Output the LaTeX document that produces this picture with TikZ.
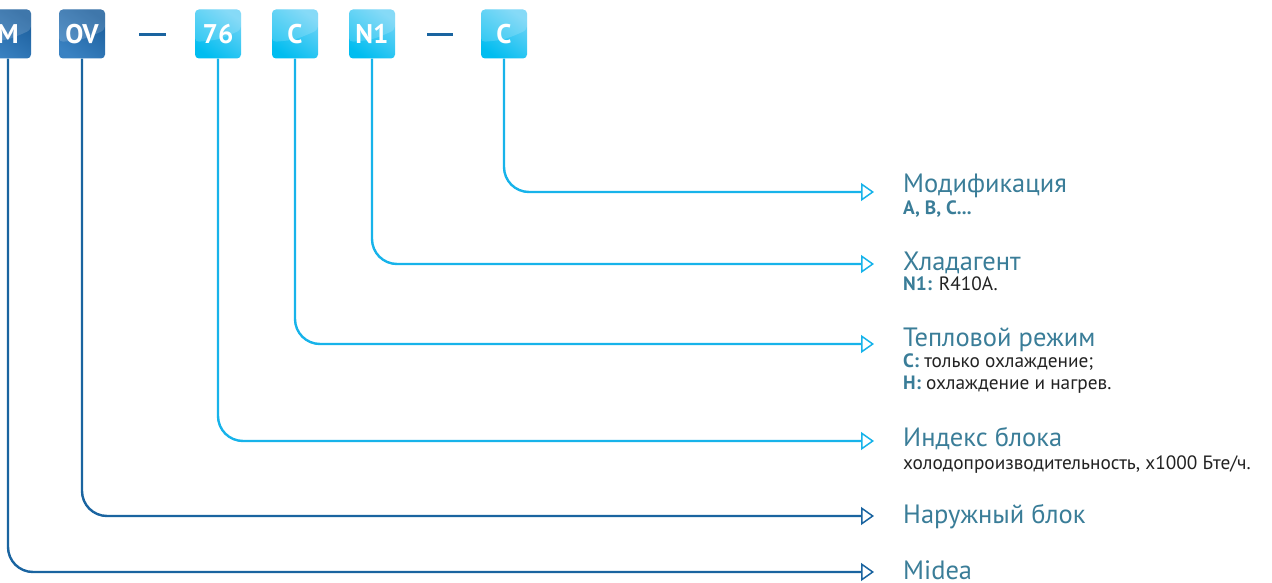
\documentclass[tikz,border=0pt]{standalone}
\usepackage{fontspec}
\setmainfont{PT Sans}
\usetikzlibrary{arrows.meta}

\definecolor{deepblue}{HTML}{1A64A0}
\definecolor{skyblue}{HTML}{17B3EA}
\definecolor{tealtext}{HTML}{3A7D98}
\definecolor{bodytext}{HTML}{222222}
\definecolor{boxdarka}{HTML}{1B5E9C}
\definecolor{boxdarkb}{HTML}{3A82C2}
\definecolor{boxlighta}{HTML}{6FD3F6}
\definecolor{boxlightb}{HTML}{00BDF0}

\newcommand{\lab}[1]{\textbf{\textcolor{tealtext}{#1}}}

\begin{document}
\begin{tikzpicture}[x=1pt, y=-1pt,
    box/.style={rounded corners=4pt, minimum width=46pt, minimum height=49pt,
        inner sep=0pt, text=white, font=\fontsize{27}{27}\selectfont\bfseries,
        path picture={\fill[white, opacity=0.16]
            (path picture bounding box.north west) -- (path picture bounding box.north east)
            -- ([yshift=4pt]path picture bounding box.east)
            .. controls ([yshift=-6pt]path picture bounding box.center) ..
            ([yshift=-8pt]path picture bounding box.west) -- cycle;}},
    darkbox/.style={box, top color=boxdarka, bottom color=boxdarkb, shading angle=-35},
    lightbox/.style={box, top color=boxlighta, bottom color=boxlightb, shading angle=-35},
    conn/.style={line width=2.4pt, rounded corners=25pt,
        -{Triangle[open, length=13pt, width=18pt, line width=1.5pt]}},
    darkconn/.style={conn, deepblue},
    lightconn/.style={conn, skyblue},
    title/.style={anchor=base west, inner sep=0pt, text=tealtext,
        font=\fontsize{26.5}{30}\selectfont},
    sub/.style={anchor=base west, inner sep=0pt, text=bodytext,
        font=\fontsize{19.3}{22}\selectfont},
    sepline/.style={line width=3pt, deepblue}]

    \useasboundingbox (0,0) rectangle (1272,583);

    % model code boxes
    \node[darkbox]  (bm)  at (8,34)   {M};
    \node[darkbox]  (bov) at (82,34)  {OV};
    \node[lightbox] (b76) at (218,34) {76};
    \node[lightbox] (bc)  at (295,34) {C};
    \node[lightbox] (bn1) at (372,34) {N1};
    \node[lightbox] (bm2) at (504,34) {C};

    % separators
    \draw[sepline] (139,35) -- (166,35);
    \draw[sepline] (427,35) -- (453,35);

    % arrow targets
    \coordinate (amod) at (874,192);
    \coordinate (aref) at (874,264);
    \coordinate (ahm)  at (874,344);
    \coordinate (aidx) at (874,441);
    \coordinate (aout) at (874,516);
    \coordinate (amid) at (874,572);

    % descriptions
    \node[title] (tmod) at (903,193) {Модификация};
    \node[sub]   (smod) at (903,214) {\lab{A, B, C...}};
    \node[title] (tref) at (903,270) {Хладагент};
    \node[sub]   (sref) at (903,290) {\lab{N1:} R410A.};
    \node[title] (thm)  at (903,346) {Тепловой режим};
    \node[sub]   (shmc) at (903,367) {\lab{C:} только охлаждение;};
    \node[sub]   (shmh) at (903,389) {\lab{H:} охлаждение и нагрев.};
    \node[title] (tidx) at (903,446) {Индекс блока};
    \node[sub]   (sidx) at (903,469) {холодопроизводительность, x1000 Бте/ч.};
    \node[title] (tout) at (903,523) {Наружный блок};
    \node[title] (tmid) at (903,579) {Midea};

    % connectors
    \draw[lightconn] (bm2.south) |- (amod);
    \draw[lightconn] (bn1.south) |- (aref);
    \draw[lightconn] (bc.south)  |- (ahm);
    \draw[lightconn] (b76.south) |- (aidx);
    \draw[darkconn]  (bov.south) |- (aout);
    \draw[darkconn]  (bm.south)  |- (amid);

\end{tikzpicture}
\end{document}
